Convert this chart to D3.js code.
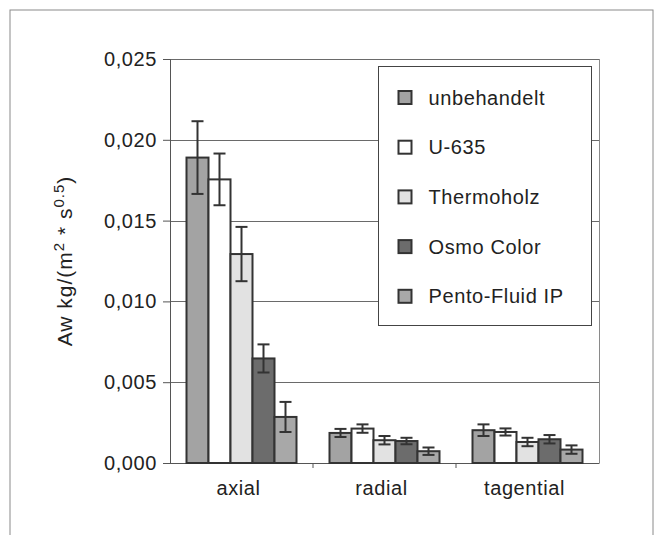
<!DOCTYPE html>
<html>
<head>
<meta charset="utf-8">
<script src="https://cdn.jsdelivr.net/npm/d3@7.9.0/dist/d3.min.js"></script>
<style>
  body { margin: 0; background: #fff; }
  svg text { font-family: "Liberation Sans", Arial, sans-serif; font-size: 20px; fill: #222; letter-spacing: 0.6px; }
  svg text.ylabel { font-size: 21px; letter-spacing: 1px; }
</style>
</head>
<body>
<svg id="chart" width="654" height="535"></svg>
<script>
const categories = ['axial', 'radial', 'tagential'];
const seriesNames = ['unbehandelt', 'U-635', 'Thermoholz', 'Osmo Color', 'Pento-Fluid IP'];
const seriesColors = ['#a3a3a3', '#ffffff', '#e2e2e2', '#6c6c6c', '#a8a8a8'];

// mean values per series, one entry per category
const unbehandelt = [0.0189, 0.00186, 0.00203];
const u635 = [0.01755, 0.00213, 0.00192];
const thermoholz = [0.01293, 0.00141, 0.0013];
const osmoColor = [0.00647, 0.00136, 0.00147];
const pentoFluid = [0.00285, 0.00073, 0.00083];

// error bar half widths
const errUnbehandelt = [0.00225, 0.00025, 0.00036];
const errU635 = [0.0016, 0.00026, 0.00022];
const errThermoholz = [0.00168, 0.00026, 0.00026];
const errOsmoColor = [0.00087, 0.0002, 0.00026];
const errPentoFluid = [0.00093, 0.00023, 0.00026];

const yTicks = [0, 0.005, 0.01, 0.015, 0.02, 0.025];

const values = [unbehandelt, u635, thermoholz, osmoColor, pentoFluid];
const errors = [errUnbehandelt, errU635, errThermoholz, errOsmoColor, errPentoFluid];

const bars = [];
categories.forEach((cat, ci) => {
  seriesNames.forEach((name, si) => {
    bars.push({ cat, name, si, value: values[si][ci], err: errors[si][ci] });
  });
});

const svg = d3.select('#chart');
const margin = { left: 170, top: 59, right: 55, bottom: 72 };
const width = 599 - margin.left;
const height = 463 - margin.top;

// outer frame
svg.append('rect')
  .attr('x', 10).attr('y', 10)
  .attr('width', 643).attr('height', 560)
  .attr('fill', 'none').attr('stroke', '#8a8a8a').attr('stroke-width', 1);

const g = svg.append('g').attr('transform', `translate(${margin.left},${margin.top})`);

const x0 = d3.scaleBand().domain(categories).range([0, width]);
const x1 = d3.scaleBand().domain(seriesNames)
  .range([0, x0.bandwidth()])
  .paddingOuter(0.75).paddingInner(0);
const y = d3.scaleLinear().domain([0, 0.025]).range([height, 0]);
const fmt = (d) => d3.format('.3f')(d).replace('.', ',');

// gridlines
g.selectAll('.grid')
  .data(yTicks)
  .join('line')
  .attr('x1', 0).attr('x2', width)
  .attr('y1', (d) => Math.round(y(d)) + 0.5).attr('y2', (d) => Math.round(y(d)) + 0.5)
  .attr('stroke', '#6a6a6a').attr('stroke-width', 1);

// plot border right
g.append('line')
  .attr('x1', width + 0.5).attr('x2', width + 0.5)
  .attr('y1', 0).attr('y2', height)
  .attr('stroke', '#8a8a8a');

// y axis
const yAxis = g.append('g')
  .call(d3.axisLeft(y).tickValues(yTicks).tickFormat(fmt).tickSize(7).tickPadding(6));
yAxis.select('.domain').attr('stroke', '#555');
yAxis.selectAll('.tick line').attr('stroke', '#555');
yAxis.selectAll('text').attr('font-size', null).attr('font-family', null).attr('fill', null);

// x axis
const xAxis = g.append('g')
  .attr('transform', `translate(0,${height})`)
  .call(d3.axisBottom(x0).tickSize(0).tickPadding(18));
xAxis.select('.domain').attr('stroke', '#555');
xAxis.selectAll('text').attr('font-size', null).attr('font-family', null).attr('fill', null)
  .attr('dx', -3);
// category separator ticks
g.selectAll('.sep')
  .data(categories.slice(1))
  .join('line')
  .attr('x1', (d) => x0(d)).attr('x2', (d) => x0(d))
  .attr('y1', height).attr('y2', height + 5)
  .attr('stroke', '#555');

// bars
g.selectAll('.bar')
  .data(bars)
  .join('rect')
  .attr('x', (d) => x0(d.cat) + x1(d.name))
  .attr('y', (d) => y(d.value))
  .attr('width', x1.bandwidth())
  .attr('height', (d) => height - y(d.value))
  .attr('fill', (d) => seriesColors[d.si])
  .attr('stroke', '#333')
  .attr('stroke-width', 2);

// error bars
const eb = g.selectAll('.err')
  .data(bars)
  .join('g')
  .attr('transform', (d) => `translate(${x0(d.cat) + x1(d.name) + x1.bandwidth() / 2},0)`);
eb.append('line')
  .attr('y1', (d) => y(d.value + d.err)).attr('y2', (d) => y(d.value - d.err))
  .attr('stroke', '#333').attr('stroke-width', 2);
eb.append('line')
  .attr('x1', -6).attr('x2', 6)
  .attr('y1', (d) => y(d.value + d.err)).attr('y2', (d) => y(d.value + d.err))
  .attr('stroke', '#333').attr('stroke-width', 2);
eb.append('line')
  .attr('x1', -6).attr('x2', 6)
  .attr('y1', (d) => y(d.value - d.err)).attr('y2', (d) => y(d.value - d.err))
  .attr('stroke', '#333').attr('stroke-width', 2);

// y axis label
const yLabel = svg.append('text')
  .attr('class', 'ylabel')
  .attr('transform', 'translate(72,261) rotate(-90)')
  .attr('text-anchor', 'middle');
yLabel.append('tspan').text('Aw kg/(m');
yLabel.append('tspan').attr('dy', -8).attr('font-size', '15px').text('2');
yLabel.append('tspan').attr('dy', 8).text(' * s');
yLabel.append('tspan').attr('dy', -8).attr('font-size', '15px').text('0.5');
yLabel.append('tspan').attr('dy', 8).text(')');
yLabel.selectAll('tspan').filter(function () { return this.getAttribute('font-size'); })
  .style('font-size', '15px');

// legend
const legend = svg.append('g').attr('transform', 'translate(378.5,66.5)');
legend.append('rect')
  .attr('width', 213).attr('height', 259)
  .attr('fill', '#fff').attr('stroke', '#444').attr('stroke-width', 1);
const item = legend.selectAll('.item')
  .data(seriesNames)
  .join('g')
  .attr('transform', (d, i) => `translate(20,${31 + i * 49.7})`);
item.append('rect')
  .attr('x', 0).attr('y', -6.5)
  .attr('width', 13).attr('height', 13)
  .attr('fill', (d, i) => seriesColors[i])
  .attr('stroke', '#333').attr('stroke-width', 2);
item.append('text')
  .attr('x', 30).attr('dy', '0.35em')
  .text((d) => d);
</script>
</body>
</html>
